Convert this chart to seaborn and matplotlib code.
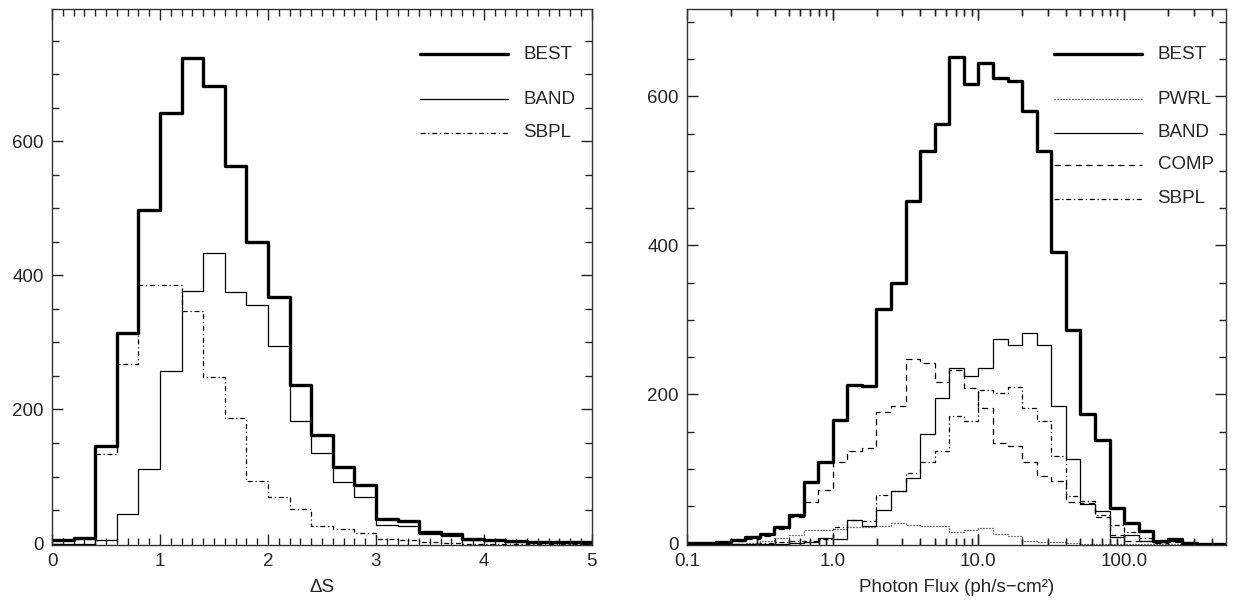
import numpy as np
import pandas as pd
import matplotlib
import matplotlib.pyplot as plt
import matplotlib.transforms as mtransforms
import seaborn as sns
from matplotlib.ticker import MultipleLocator, NullFormatter, FixedLocator, FixedFormatter

matplotlib.use('Agg')

# ---- left panel: Delta S histograms, bins of 0.2 from 0 to 5
ds_edges = np.round(np.arange(0, 5.01, 0.2), 2)
ds_best = [5, 8, 145, 314, 498, 642, 724, 682, 563, 449, 367, 237, 162, 114, 88,
           37, 34, 17, 14, 7, 6, 4, 3, 2, 2]
ds_band = [0, 0, 5, 44, 112, 258, 376, 434, 375, 356, 295, 183, 135, 92, 70,
           28, 27, 15, 12, 6, 5, 3, 2, 1, 1]
ds_sbpl = [5, 7, 134, 268, 386, 385, 347, 248, 187, 93, 70, 52, 26, 22, 16,
           7, 5, 2, 1, 0, 0, 0, 0, 0, 0]

# ---- right panel: photon flux histograms, bins of 0.1 in log10 from 0.1 to ~500
pf_edges = 10 ** (-1 + 0.1 * np.arange(38))
pf_best = [1, 1, 2, 5, 9, 13, 22, 38, 83, 109, 166, 213, 211, 314, 349, 459, 527,
           563, 652, 617, 645, 625, 620, 580, 526, 391, 287, 174, 139, 47, 27, 17,
           3, 6, 1, 0, 0]
pf_pwrl = [0, 0, 0, 0, 1, 3, 7, 12, 18, 18, 20, 22, 22, 24, 28, 25, 23,
           24, 16, 18, 21, 13, 10, 4, 2, 2, 1, 0, 0, 0, 0, 0,
           0, 0, 0, 0, 0]
pf_band = [0, 0, 0, 0, 0, 0, 0, 1, 2, 8, 6, 32, 24, 45, 70, 88, 147,
           195, 236, 225, 236, 274, 266, 282, 266, 185, 114, 53, 43, 9, 12, 3,
           2, 4, 0, 0, 0]
pf_comp = [0, 0, 1, 3, 6, 10, 20, 36, 56, 72, 110, 124, 128, 176, 184, 247, 242,
           217, 233, 209, 182, 135, 131, 110, 90, 84, 56, 55, 35, 12, 3, 3,
           1, 2, 0, 0, 0]
pf_sbpl = [0, 0, 0, 0, 0, 1, 2, 3, 4, 6, 22, 32, 30, 65, 70, 95, 110,
           124, 171, 164, 206, 202, 210, 182, 165, 118, 64, 57, 38, 25, 16, 7,
           2, 3, 0, 0, 0]
pf_major = [0.1, 1, 10, 100]
pf_labels = ['0.1', '1.0', '10.0', '100.0']

sns.set_style('ticks')
plt.rcParams['font.family'] = ['Liberation Sans', 'DejaVu Sans']
plt.rcParams['font.size'] = 13.5
plt.rcParams['axes.linewidth'] = 1.0

THICK = dict(color='black', linewidth=2.4, linestyle='-')
THIN = dict(color='black', linewidth=0.9, linestyle='-')
DOT = dict(color='black', linewidth=0.9, linestyle=(0, (0.8, 1.6)))
DASH = dict(color='black', linewidth=0.9, linestyle=(0, (5, 3.5)))
DASHDOT = dict(color='black', linewidth=0.9, linestyle=(0, (4, 2.2, 1, 2.2)))


def step(ax, edges, counts, style):
    df = pd.DataFrame({'x': edges, 'n': list(counts) + [counts[-1]]})
    sns.lineplot(data=df, x='x', y='n', ax=ax, drawstyle='steps-post', **style)


def key(ax, y, label, style):
    ax.plot([0.681, 0.844], [y, y], transform=ax.transAxes, **style)
    ax.text(0.873, y, label, transform=ax.transAxes, va='center', ha='left', fontsize=13.5)


def frame(ax):
    ax.tick_params(which='both', direction='in', top=True, right=True, bottom=True, left=True,
                   labelsize=13.5, pad=6, color='#222222')
    ax.tick_params(which='major', length=8, width=1)
    ax.tick_params(which='minor', length=5, width=1)
    for s in ax.spines.values():
        s.set_color('#333333')
    ax.set_ylabel('')


def log_ticks(ax, positions, frac):
    # inward tick marks on bottom and top edges of a log x axis
    tr = mtransforms.blended_transform_factory(ax.transData, ax.transAxes)
    ax.vlines(positions, 0, frac, transform=tr, color='#222222', lw=1, clip_on=False)
    ax.vlines(positions, 1 - frac, 1, transform=tr, color='#222222', lw=1, clip_on=False)


fig = plt.figure(figsize=(12.33, 6.09), dpi=100)
ax1 = fig.add_axes([0.0422, 0.1051, 0.4378, 0.8801])
ax2 = fig.add_axes([0.5572, 0.1051, 0.4371, 0.8801])

# left
step(ax1, ds_edges, ds_best, THICK)
step(ax1, ds_edges, ds_band, THIN)
step(ax1, ds_edges, ds_sbpl, DASHDOT)
ax1.set_xlim(0, 5)
ax1.set_ylim(-2, 797)
ax1.xaxis.set_major_locator(MultipleLocator(1))
ax1.xaxis.set_minor_locator(MultipleLocator(0.1))
ax1.yaxis.set_major_locator(FixedLocator([0, 200, 400, 600]))
ax1.yaxis.set_minor_locator(MultipleLocator(50))
ax1.set_xlabel('ΔS', fontsize=13.5, labelpad=6)
frame(ax1)
key(ax1, 0.916, 'BEST', THICK)
key(ax1, 0.832, 'BAND', THIN)
key(ax1, 0.769, 'SBPL', DASHDOT)

# right
ax2.set_xscale('log')
step(ax2, pf_edges, pf_best, THICK)
step(ax2, pf_edges, pf_pwrl, DOT)
step(ax2, pf_edges, pf_band, THIN)
step(ax2, pf_edges, pf_comp, DASH)
step(ax2, pf_edges, pf_sbpl, DASHDOT)
ax2.set_xlim(0.1, 500)
ax2.set_ylim(-2, 717)
log_minor = [k * 10.0 ** d for d in range(-1, 3) for k in range(2, 10) if k * 10.0 ** d < 500]
ax2.xaxis.set_major_locator(FixedLocator(pf_major))
ax2.xaxis.set_major_formatter(FixedFormatter(pf_labels))
ax2.xaxis.set_minor_locator(FixedLocator(log_minor))
ax2.xaxis.set_minor_formatter(NullFormatter())
ax2.yaxis.set_major_locator(FixedLocator([0, 200, 400, 600]))
ax2.yaxis.set_minor_locator(MultipleLocator(50))
ax2.set_xlabel('Photon Flux (ph/s\u2212cm\u00b2)', fontsize=13.5, labelpad=6)
frame(ax2)
log_ticks(ax2, pf_major[1:], 0.02)
log_ticks(ax2, log_minor, 0.012)
key(ax2, 0.916, 'BEST', THICK)
key(ax2, 0.832, 'PWRL', DOT)
key(ax2, 0.769, 'BAND', THIN)
key(ax2, 0.709, 'COMP', DASH)
key(ax2, 0.646, 'SBPL', DASHDOT)

plt.savefig('out.png', dpi=100)
plt.close()
